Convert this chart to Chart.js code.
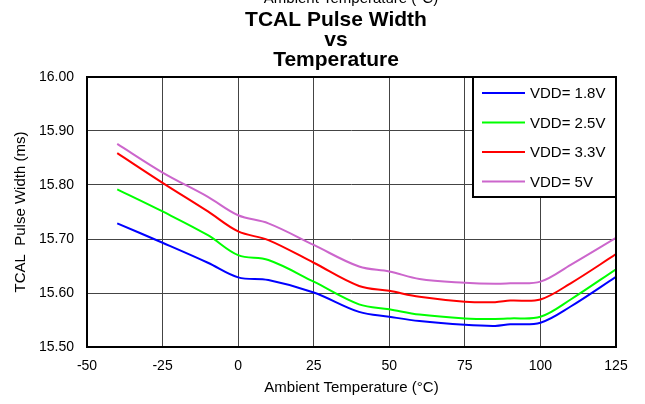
<!DOCTYPE html>
<html>
<head>
<meta charset="utf-8">
<title>TCAL Pulse Width vs Temperature</title>
<script src="https://cdn.jsdelivr.net/npm/chart.js@4.4.0/dist/chart.umd.min.js"></script>
<style>
    html, body { margin: 0; padding: 0; background: #fff; }
    canvas { display: block; }
</style>
</head>
<body>
<canvas id="pulseChart" width="645" height="404"></canvas>
<script>
// values (ms)
const temperatures = [-40, -25, -10, 0, 10, 25, 40, 50, 60, 75, 85, 90, 100, 110, 125];
const vdd18 = [15.729, 15.693, 15.656, 15.629, 15.624, 15.601, 15.565, 15.556, 15.548, 15.541, 15.539, 15.542, 15.545, 15.575, 15.630];
const vdd25 = [15.792, 15.751, 15.707, 15.670, 15.661, 15.621, 15.579, 15.570, 15.560, 15.553, 15.552, 15.553, 15.556, 15.588, 15.644];
const vdd33 = [15.859, 15.804, 15.751, 15.714, 15.698, 15.656, 15.613, 15.604, 15.593, 15.584, 15.583, 15.586, 15.588, 15.618, 15.672];
const vdd50 = [15.876, 15.823, 15.778, 15.744, 15.729, 15.689, 15.649, 15.640, 15.626, 15.619, 15.617, 15.618, 15.621, 15.652, 15.702];

const seriesLabels = ['VDD= 1.8V', 'VDD= 2.5V', 'VDD= 3.3V', 'VDD= 5V'];
const seriesColors = ['#0000ff', '#00ff00', '#ff0000', '#cc66cc'];

const titleLines = ['TCAL Pulse Width', 'vs', 'Temperature'];
const xAxisTitle = 'Ambient Temperature (°C)';
const yAxisTitle = 'TCAL  Pulse Width (ms)';

const xMin = -50, xMax = 125, xStep = 25;
const yMin = 15.5, yMax = 16.0, yStep = 0.1;

const FONT = "'Liberation Sans', Arial, sans-serif";

function toPoints(values) {
    return temperatures.map((t, i) => ({ x: t, y: values[i] }));
}

// title block plus the clipped caption at the very top
const headerText = {
    id: 'headerText',
    afterDraw(chart) {
        const ctx = chart.ctx;
        ctx.save();
        ctx.fillStyle = '#000';
        ctx.textAlign = 'center';
        ctx.textBaseline = 'alphabetic';
        ctx.font = `15px ${FONT}`;
        ctx.fillText(xAxisTitle, 351, 3);
        ctx.font = `bold 21px ${FONT}`;
        titleLines.forEach((line, i) => ctx.fillText(line, 336, 26 + i * 20));
        ctx.restore();
    }
};

const plotFrame = {
    id: 'plotFrame',
    afterDatasetsDraw(chart) {
        const { ctx, chartArea: { left, top, right, bottom } } = chart;
        ctx.save();
        ctx.strokeStyle = '#000';
        ctx.lineWidth = 2;
        ctx.strokeRect(left, top, right - left, bottom - top);
        ctx.restore();
    }
};

const boxedLegend = {
    id: 'boxedLegend',
    afterDatasetsDraw(chart) {
        const { ctx, chartArea: { top, right } } = chart;
        const w = 143, h = 120;
        const x0 = right - w, y0 = top;
        ctx.save();
        ctx.fillStyle = '#fff';
        ctx.fillRect(x0, y0, w, h);
        ctx.strokeStyle = '#000';
        ctx.lineWidth = 2;
        ctx.strokeRect(x0, y0, w, h);
        ctx.font = `15px ${FONT}`;
        ctx.textBaseline = 'middle';
        ctx.textAlign = 'left';
        chart.data.datasets.forEach((ds, i) => {
            const y = y0 + 16 + i * 29.5;
            ctx.strokeStyle = ds.borderColor;
            ctx.lineWidth = 2;
            ctx.beginPath();
            ctx.moveTo(x0 + 9, y);
            ctx.lineTo(x0 + 52, y);
            ctx.stroke();
            ctx.fillStyle = '#000';
            ctx.fillText(ds.label, x0 + 57, y + 1);
        });
        ctx.restore();
    }
};

const allSeries = [vdd18, vdd25, vdd33, vdd50];

new Chart(document.getElementById('pulseChart'), {
    type: 'line',
    data: {
        datasets: allSeries.map((values, i) => ({
            label: seriesLabels[i],
            data: toPoints(values),
            borderColor: seriesColors[i],
            backgroundColor: seriesColors[i],
            borderWidth: 2,
            pointRadius: 0,
            tension: 0.35,
            fill: false
        }))
    },
    options: {
        responsive: false,
        animation: false,
        layout: { padding: { top: 77, right: 29, left: 0, bottom: 0 } },
        plugins: {
            legend: { display: false },
            title: { display: false },
            tooltip: { enabled: false }
        },
        scales: {
            x: {
                type: 'linear',
                min: xMin,
                max: xMax,
                afterFit: scale => { scale.height = 57; },
                ticks: { stepSize: xStep, color: '#000', font: { family: FONT, size: 14 }, padding: 11 },
                grid: { color: '#444', lineWidth: 1, drawTicks: false },
                border: { display: false },
                title: {
                    display: true,
                    text: xAxisTitle,
                    color: '#000',
                    font: { family: FONT, size: 15 },
                    padding: { top: 0, bottom: 7 }
                }
            },
            y: {
                min: yMin,
                max: yMax,
                afterFit: scale => { scale.width = 87; },
                ticks: {
                    stepSize: yStep,
                    color: '#000',
                    font: { family: FONT, size: 14 },
                    padding: 13,
                    callback: v => Number(v).toFixed(2)
                },
                grid: { color: '#444', lineWidth: 1, drawTicks: false },
                border: { display: false },
                title: {
                    display: true,
                    text: yAxisTitle,
                    color: '#000',
                    font: { family: FONT, size: 15 },
                    padding: { top: 12, bottom: 0 }
                }
            }
        }
    },
    plugins: [headerText, plotFrame, boxedLegend]
});
</script>
</body>
</html>
